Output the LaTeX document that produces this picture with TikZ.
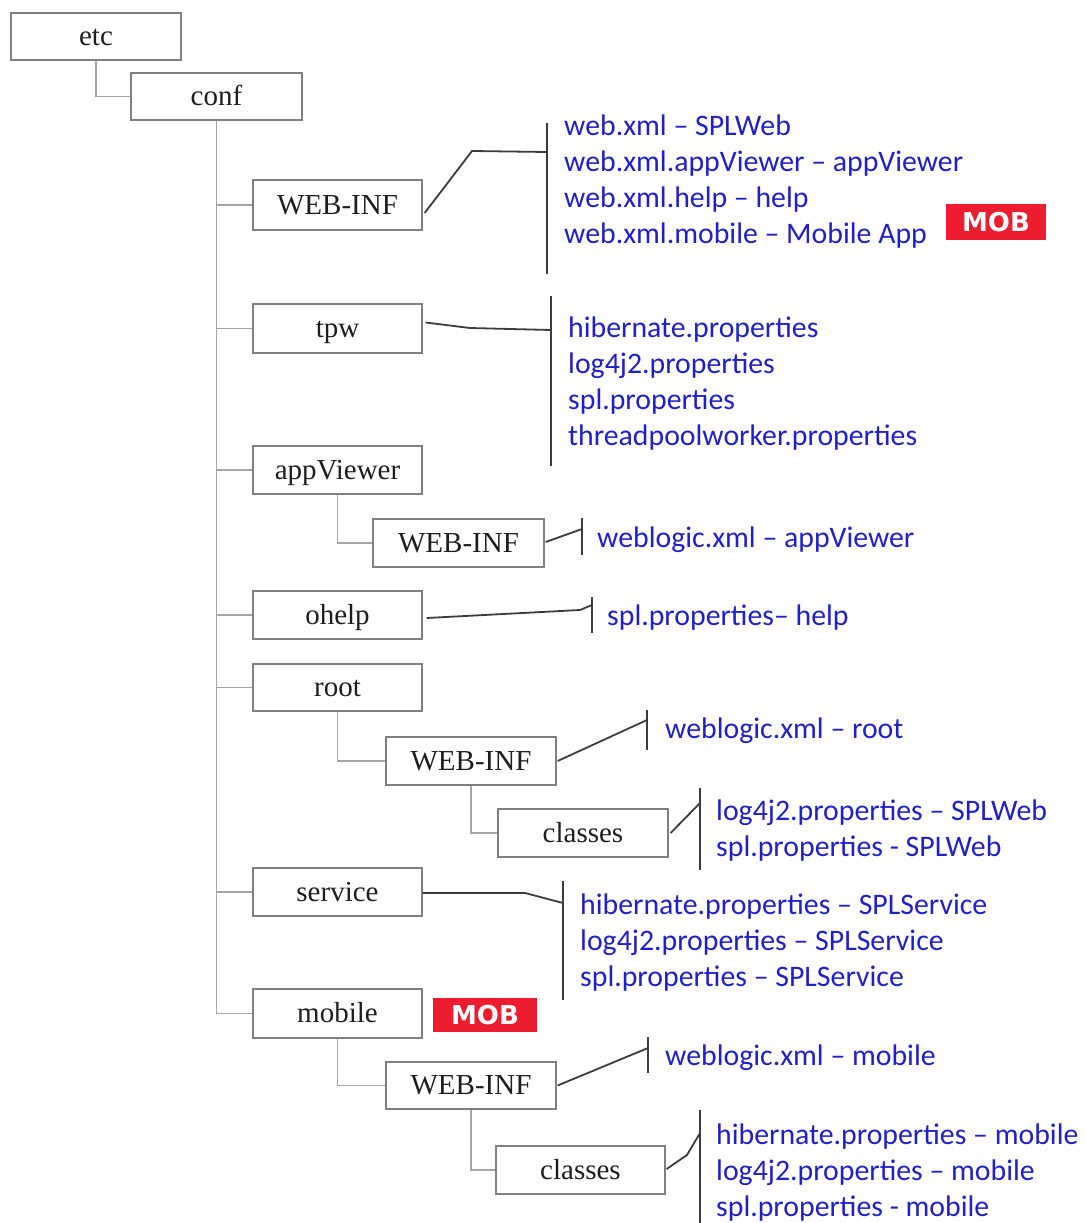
\documentclass[tikz,border=0pt]{standalone}
\usepackage{fontspec}
\setmainfont{Liberation Serif}
\newfontfamily\boxfont{Liberation Serif}
\newfontfamily\lblfont{Carlito}
\newfontfamily\mobfont{DejaVu Sans}
\definecolor{boxgray}{RGB}{128,128,128}
\definecolor{treegray}{RGB}{165,165,165}
\definecolor{brkgray}{RGB}{60,60,60}
\definecolor{boxtext}{RGB}{30,30,30}
\definecolor{lblblue}{RGB}{32,32,200}
\definecolor{mobred}{RGB}{237,28,46}
\begin{document}
\begin{tikzpicture}[x=1pt,y=-1pt,
  box/.style={draw=boxgray, line width=1.3pt, minimum width=170pt, minimum height=48pt,
    inner sep=0pt, text height=24pt, text depth=6pt,
    font=\boxfont\fontsize{29}{31}\selectfont, text=boxtext},
  tree/.style={draw=treegray, line width=1.6pt},
  brk/.style={draw=brkgray, line width=1.8pt},
  lbl/.style={anchor=base west, inner sep=0pt, font=\lblfont\fontsize{29.8}{31}\selectfont, text=lblblue},
  mob/.style={fill=mobred, text=white, inner sep=0pt, font=\mobfont\bfseries\fontsize{26}{28}\selectfont}
]
\useasboundingbox (0,0) rectangle (1085,1223);

% boxes
\node[box, minimum height=47pt] (etc) at (96,36.5) {etc};
\node[box, minimum width=171pt, minimum height=47pt] (conf) at (216.5,96.5) {conf};
\node[box, minimum width=169pt, minimum height=50pt] (web) at (337.5,205) {WEB-INF};
\node[box, minimum width=169pt, minimum height=49pt] (tpw) at (337.5,328.5) {tpw};
\node[box, minimum width=169pt] (appv) at (337.5,470) {appViewer};
\node[box, minimum width=171pt] (wa) at (458.5,543) {WEB-INF};
\node[box, minimum width=169pt] (ohelp) at (337.5,615) {ohelp};
\node[box, minimum width=169pt, minimum height=47pt] (root) at (337.5,687.5) {root};
\node[box] (wr) at (471,761) {WEB-INF};
\node[box] (cr) at (583,833) {classes};
\node[box, minimum width=169pt] (serv) at (337.5,892) {service};
\node[box, minimum width=169pt, minimum height=49pt] (mobile) at (337.5,1013.5) {mobile};
\node[box, minimum height=47pt] (wm) at (471,1085.5) {WEB-INF};
\node[box, minimum width=169pt] (cm) at (580.5,1170) {classes};

% tree connectors
\draw[tree] (etc.south) |- (conf.west);
\draw[tree] (conf.south) -- (conf.south |- mobile.west) -- (mobile.west);
\foreach \n in {web,tpw,appv,ohelp,root,serv}
  \draw[tree] (conf.south |- \n.west) -- (\n.west);
\draw[tree] (appv.south) |- (wa.west);
\draw[tree] (root.south) |- (wr.west);
\draw[tree] (wr.south) |- (cr.west);
\draw[tree] (mobile.south) |- (wm.west);
\draw[tree] (wm.south) |- (cm.west);

% bracket coordinates
\coordinate (b1t) at (547,123); \coordinate (b1b) at (547,274); \coordinate (b1m) at (547,152);
\coordinate (b2t) at (551,296); \coordinate (b2b) at (551,466); \coordinate (b2m) at (551,330);
\coordinate (b3t) at (582,518); \coordinate (b3b) at (582,555); \coordinate (b3m) at (582,529);
\coordinate (b4t) at (592,597); \coordinate (b4b) at (592,633); \coordinate (b4m) at (592,605);
\coordinate (b5t) at (647,710); \coordinate (b5b) at (647,750); \coordinate (b5m) at (647,720);
\coordinate (b6t) at (700,788); \coordinate (b6b) at (700,870); \coordinate (b6m) at (700,803);
\coordinate (b7t) at (563,881); \coordinate (b7b) at (563,1000); \coordinate (b7m) at (563,903);
\coordinate (b8t) at (648,1037); \coordinate (b8b) at (648,1073); \coordinate (b8m) at (648,1048);
\coordinate (b9t) at (700,1110); \coordinate (b9b) at (700,1223); \coordinate (b9m) at (700,1133);
\foreach \i in {1,...,9} \draw[brk] (b\i t) -- (b\i b);

% bracket connectors
\draw[brk] ([shift={(2,8)}]web.east) -- (472,151) -- (b1m);
\draw[brk] ([shift={(3,-6)}]tpw.east) -- (470,328) -- (b2m);
\draw[brk] ([shift={(1,-1)}]wa.east) -- (b3m);
\draw[brk] ([shift={(4,3)}]ohelp.east) -- (580,610) -- (b4m);
\draw[brk] ([shift={(1,0)}]wr.east) -- (b5m);
\draw[brk] ([shift={(2,0)}]cr.east) -- (b6m);
\draw[brk] ([shift={(0,1)}]serv.east) -- (525,893) -- (b7m);
\draw[brk] ([shift={(1,0)}]wm.east) -- (b8m);
\draw[brk] ([shift={(1,-1)}]cm.east) -- (687,1155) -- (b9m);

% labels
\node[lbl] (l1a) at (564,135) {web.xml – SPLWeb};
\node[lbl] (l1b) at (564,171) {web.xml.appViewer – appViewer};
\node[lbl] (l1c) at (564,207) {web.xml.help – help};
\node[lbl] (l1d) at (564,243) {web.xml.mobile – Mobile App};
\node[lbl] (l2a) at (568,337) {hibernate.properties};
\node[lbl] (l2b) at (568,373) {log4j2.properties};
\node[lbl] (l2c) at (568,409) {spl.properties};
\node[lbl] (l2d) at (568,445) {threadpoolworker.properties};
\node[lbl] (l3) at (597,547) {weblogic.xml – appViewer};
\node[lbl] (l4) at (607,625) {spl.properties– help};
\node[lbl] (l5) at (665,738) {weblogic.xml – root};
\node[lbl] (l6a) at (716,820) {log4j2.properties – SPLWeb};
\node[lbl] (l6b) at (716,856) {spl.properties - SPLWeb};
\node[lbl] (l7a) at (580,914) {hibernate.properties – SPLService};
\node[lbl] (l7b) at (580,950) {log4j2.properties – SPLService};
\node[lbl] (l7c) at (580,986) {spl.properties – SPLService};
\node[lbl] (l8) at (665,1065) {weblogic.xml – mobile};
\node[lbl] (l9a) at (716,1144) {hibernate.properties – mobile};
\node[lbl] (l9b) at (716,1180) {log4j2.properties – mobile};
\node[lbl] (l9c) at (716,1216) {spl.properties - mobile};

% MOB badges
\node[mob, minimum width=100pt, minimum height=36pt] (mob1) at (996,222) {MOB};
\node[mob, minimum width=104pt, minimum height=34pt] (mob2) at (485,1015) {MOB};
\end{tikzpicture}
\end{document}
